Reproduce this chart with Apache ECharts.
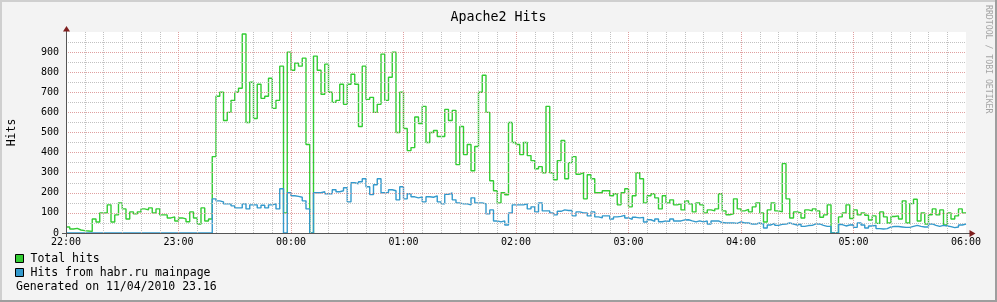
<!DOCTYPE html>
<html><head><meta charset="utf-8">
<script src="https://cdn.jsdelivr.net/npm/echarts@6/dist/echarts.min.js"></script>
<style>html,body{margin:0;padding:0;background:#f3f3f3}#c{width:997px;height:302px}</style>
</head><body><div id="c"></div>
<script>
const STEP_MINUTES = 2;
const hourLabels = ['22:00','23:00','00:00','01:00','02:00','03:00','04:00','05:00','06:00'];
const seriesNames = ['Total hits', 'Hits from habr.ru mainpage'];
const totalHits = [
30,20,23,15,12,10,8,70,55,100,
100,140,55,90,150,120,70,105,95,105,
120,115,125,100,120,90,90,75,80,60,
75,70,56,105,75,45,125,60,70,380,
680,700,560,600,660,700,720,990,550,750,
570,740,670,680,770,620,660,830,100,900,
810,845,830,870,440,0,880,810,690,840,
700,650,660,740,640,740,790,740,530,830,
665,675,600,640,890,660,775,900,500,700,
520,410,425,577,545,630,450,500,510,480,
480,615,560,610,340,530,390,440,310,430,
700,785,600,260,210,150,200,190,550,450,
440,390,450,385,360,320,330,300,630,300,
265,360,460,270,350,380,292,300,170,290,
270,200,200,210,210,185,195,140,200,220,
130,185,300,270,150,185,195,175,120,185,
150,165,140,145,115,160,145,105,150,140,
100,115,110,120,195,110,91,95,170,120,
110,118,105,130,150,100,55,115,150,110,
105,345,170,75,105,100,75,115,110,120,
110,78,90,140,0,0,80,100,140,72,
115,90,100,88,65,85,48,105,80,50,
82,85,70,160,50,146,168,60,100,45,
91,120,90,115,40,100,70,85,120,100
];
const habrHits = [
0,0,0,0,0,0,0,0,0,0,
0,0,0,0,0,0,0,0,0,0,
0,0,0,0,0,0,0,0,0,0,
0,0,0,0,0,0,0,0,0,170,
160,155,145,145,135,125,125,145,120,140,
140,125,138,125,140,145,120,220,0,200,
185,182,178,160,120,0,200,200,205,195,
195,215,205,210,225,155,250,245,255,270,
230,191,240,270,200,202,215,210,165,230,
170,195,180,175,180,155,180,178,185,155,
145,192,199,165,150,145,145,140,175,150,
150,145,95,115,60,55,60,40,100,140,
140,140,145,120,130,105,150,110,110,100,
90,108,115,112,112,85,105,100,100,85,
105,80,75,85,85,70,80,83,88,75,
68,78,75,78,55,66,58,70,56,60,
58,70,60,60,65,66,60,55,60,55,
60,45,60,60,52,50,50,50,48,55,
50,50,45,45,50,45,25,40,48,38,
43,45,50,45,40,45,33,37,38,45,
45,38,33,33,0,0,42,35,40,41,
28,50,40,25,35,38,22,20,22,30,
33,32,30,28,28,33,38,33,30,30,
45,38,33,38,35,32,27,30,40,45
];

const MONO = '"DejaVu Sans Mono", monospace';
const GREEN = '#33cc33', BLUE = '#3399cc';
const MAJOR = '#e0a0a0', MINOR = '#c2c2c2', AXIS = '#555555', ARROW = '#7f1f1f';

function toSteps(arr) {
  const d = arr.map((v, i) => [i * STEP_MINUTES, v]);
  d.push([arr.length * STEP_MINUTES, arr[arr.length - 1]]);
  return d;
}
const totalMinutes = (hourLabels.length - 1) * 60;
const Y_MAX = 1000;

const chart = echarts.init(document.getElementById('c'), null, {renderer: 'canvas'});
chart.setOption({
  backgroundColor: '#f3f3f3',
  animation: false,
  title: {
    text: 'Apache2 Hits', left: 'center', top: 6,
    textStyle: {fontFamily: MONO, fontSize: 13.3, fontWeight: 'normal', color: '#000'}
  },
  grid: {left: 66, top: 32, width: 900, height: 201, show: true, backgroundColor: '#ffffff',
         borderWidth: 0, containLabel: false, outerBoundsMode: 'none', z: 0},
  xAxis: [
    {
      type: 'value', min: 0, max: totalMinutes, interval: 60, z: 4,
      axisLine: {show: true, onZero: false, lineStyle: {color: AXIS, width: 1}},
      axisTick: {show: false},
      axisLabel: {
        formatter: v => hourLabels[Math.round(v / 60)] || '',
        fontFamily: MONO, fontSize: 10, color: '#000', margin: 4,
        showMinLabel: true, showMaxLabel: true
      },
      splitLine: {show: true, showMinLine: false, showMaxLine: false, lineStyle: {color: MAJOR, type: [1, 1], width: 1}}
    },
    {
      type: 'value', min: 0, max: totalMinutes, interval: 10, z: 3, position: 'bottom',
      axisLine: {show: false}, axisTick: {show: false}, axisLabel: {show: false},
      splitLine: {show: true, showMinLine: false, showMaxLine: false, lineStyle: {color: MINOR, type: [1, 1], width: 1}}
    }
  ],
  yAxis: [
    {
      type: 'value', min: 0, max: Y_MAX, interval: 100, z: 4,
      name: 'Hits', nameLocation: 'middle', nameGap: 48, nameRotate: 90,
      nameTextStyle: {fontFamily: MONO, fontSize: 11.5, color: '#000'},
      axisLine: {show: true, lineStyle: {color: AXIS, width: 1}},
      axisTick: {show: false},
      axisLabel: {
        formatter: v => (v >= Y_MAX ? '' : String(v)),
        fontFamily: MONO, fontSize: 10, color: '#000', margin: 7
      },
      splitLine: {show: true, showMinLine: false, showMaxLine: false, lineStyle: {color: MAJOR, type: [1, 1], width: 1}}
    },
    {
      type: 'value', min: 0, max: Y_MAX, interval: 50, z: 3, position: 'left',
      axisLine: {show: false}, axisTick: {show: false}, axisLabel: {show: false},
      splitLine: {show: true, showMinLine: false, showMaxLine: false, lineStyle: {color: MINOR, type: [1, 1], width: 1}}
    }
  ],
  series: [
    {type: 'line', name: seriesNames[0], data: toSteps(totalHits), step: 'end', symbol: 'none',
     xAxisIndex: 0, yAxisIndex: 0,
     lineStyle: {color: GREEN, width: 1.4}, itemStyle: {color: GREEN}, z: 2},
    {type: 'line', name: seriesNames[1], data: toSteps(habrHits), step: 'end', symbol: 'none',
     xAxisIndex: 0, yAxisIndex: 0,
     lineStyle: {color: BLUE, width: 1.4}, itemStyle: {color: BLUE}, z: 2}
  ],
  graphic: [
    {type: 'rect', shape: {x: 0, y: 0, width: 997, height: 2}, style: {fill: '#cfcfcf'}, z: 100},
    {type: 'rect', shape: {x: 0, y: 0, width: 2, height: 302}, style: {fill: '#cfcfcf'}, z: 100},
    {type: 'rect', shape: {x: 0, y: 300, width: 997, height: 2}, style: {fill: '#9e9e9e'}, z: 100},
    {type: 'rect', shape: {x: 995, y: 0, width: 2, height: 302}, style: {fill: '#9e9e9e'}, z: 100},
    {type: 'line', shape: {x1: 62, y1: 233.5, x2: 970, y2: 233.5}, style: {stroke: AXIS, lineWidth: 1}, z: 50},
    {type: 'line', shape: {x1: 66.5, y1: 30, x2: 66.5, y2: 237}, style: {stroke: AXIS, lineWidth: 1}, z: 50},
    {type: 'polygon', shape: {points: [[66.5, 26], [63, 31.5], [70, 31.5]]}, style: {fill: ARROW}, z: 51},
    {type: 'polygon', shape: {points: [[975.5, 233.5], [969.5, 230], [969.5, 237]]}, style: {fill: ARROW}, z: 51},
    {type: 'rect', shape: {x: 15.5, y: 254.5, width: 8, height: 8}, style: {fill: GREEN, stroke: '#000', lineWidth: 1}, z: 50},
    {type: 'text', x: 30.5, y: 259, style: {text: seriesNames[0], font: '11.5px ' + MONO, fill: '#000', verticalAlign: 'middle'}, z: 50},
    {type: 'rect', shape: {x: 15.5, y: 268.5, width: 8, height: 8}, style: {fill: BLUE, stroke: '#000', lineWidth: 1}, z: 50},
    {type: 'text', x: 30.5, y: 273, style: {text: seriesNames[1], font: '11.5px ' + MONO, fill: '#000', verticalAlign: 'middle'}, z: 50},
    {type: 'text', x: 16, y: 287, style: {text: 'Generated on 11/04/2010 23.16', font: '11.5px ' + MONO, fill: '#000', verticalAlign: 'middle'}, z: 50},
    {type: 'text', x: 988.5, y: 5, rotation: -Math.PI / 2,
     style: {text: 'RRDTOOL / TOBI OETIKER', font: '8.2px ' + MONO, fill: '#a4a4a4', align: 'left', verticalAlign: 'middle'}, z: 50}
  ]
});
</script>
</body></html>
